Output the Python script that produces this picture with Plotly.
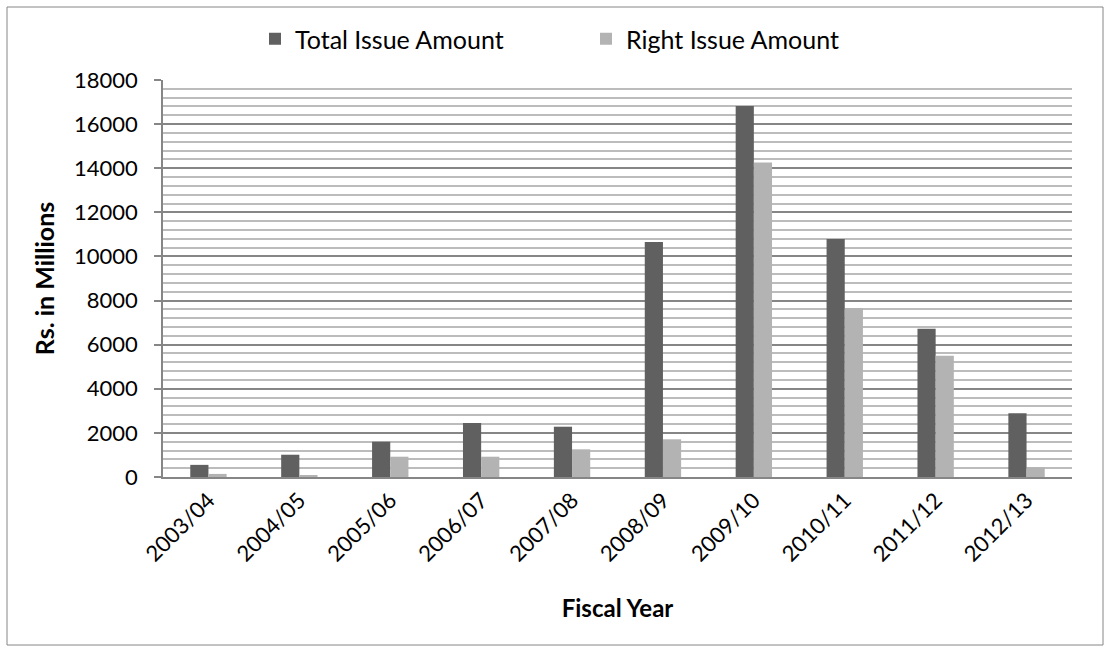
import plotly.graph_objects as go

# Fiscal years and issue amounts (Rs. in millions)
fiscal_years = ["2003/04", "2004/05", "2005/06", "2006/07", "2007/08",
                "2008/09", "2009/10", "2010/11", "2011/12", "2012/13"]
total_issue = [550, 1010, 1600, 2450, 2280, 10650, 16820, 10790, 6720, 2890]
right_issue = [140, 50, 920, 920, 1255, 1710, 14260, 7660, 5500, 440]

FONT = "Lato"
AXIS_GREY = "#868686"

fig = go.Figure()
fig.add_trace(go.Bar(name="Total Issue Amount", x=fiscal_years, y=total_issue,
                     marker=dict(color="#606060", line=dict(width=0))))
fig.add_trace(go.Bar(name="Right Issue Amount", x=fiscal_years, y=right_issue,
                     marker=dict(color="#b3b3b3", line=dict(width=0))))

fig.update_layout(
    width=1110, height=651,
    margin=dict(l=163, r=38, t=80, b=174, autoexpand=False),
    paper_bgcolor="white", plot_bgcolor="white",
    barmode="group", bargap=0.6, bargroupgap=0,
    font=dict(family=FONT, size=22, color="black"),
    showlegend=True,
    legend=dict(orientation="h", xref="container", x=255 / 1110, xanchor="left",
                yref="container", y=1 - 39 / 651, yanchor="middle",
                font=dict(family=FONT, size=25), entrywidth=286,
                entrywidthmode="pixels", itemwidth=30,
                bgcolor="rgba(0,0,0,0)"),
    shapes=[dict(type="rect", xref="paper", yref="paper",
                 x0=(7 - 163) / 909, x1=(1103 - 163) / 909,
                 y0=-(645 - 477) / 397, y1=1 + (80 - 7) / 397,
                 line=dict(color=AXIS_GREY, width=1), layer="below")],
)

fig.update_xaxes(
    type="category", tickangle=-45, showgrid=False, automargin=False,
    showline=True, linecolor=AXIS_GREY, linewidth=1.5,
    ticks="", tickfont=dict(family=FONT, size=22), ticklabelstandoff=0,
    title=dict(text="<b>Fiscal Year</b>", font=dict(family=FONT, size=24),
               standoff=35),
)
fig.update_yaxes(
    range=[0, 18000], dtick=2000, tick0=0, tickformat="d", automargin=False,
    showgrid=True, gridcolor=AXIS_GREY, gridwidth=1.5,
    minor=dict(dtick=400, showgrid=True, gridcolor="#bcbcbc", gridwidth=1.5),
    showline=True, linecolor=AXIS_GREY, linewidth=1.5,
    ticks="outside", ticklen=7, tickcolor=AXIS_GREY, tickwidth=1.5,
    tickfont=dict(family=FONT, size=22), ticklabelstandoff=12,
    zeroline=False,
    title=dict(text="<b>Rs. in Millions</b>", font=dict(family=FONT, size=25),
               standoff=12),
)

fig.write_html("out.html")
